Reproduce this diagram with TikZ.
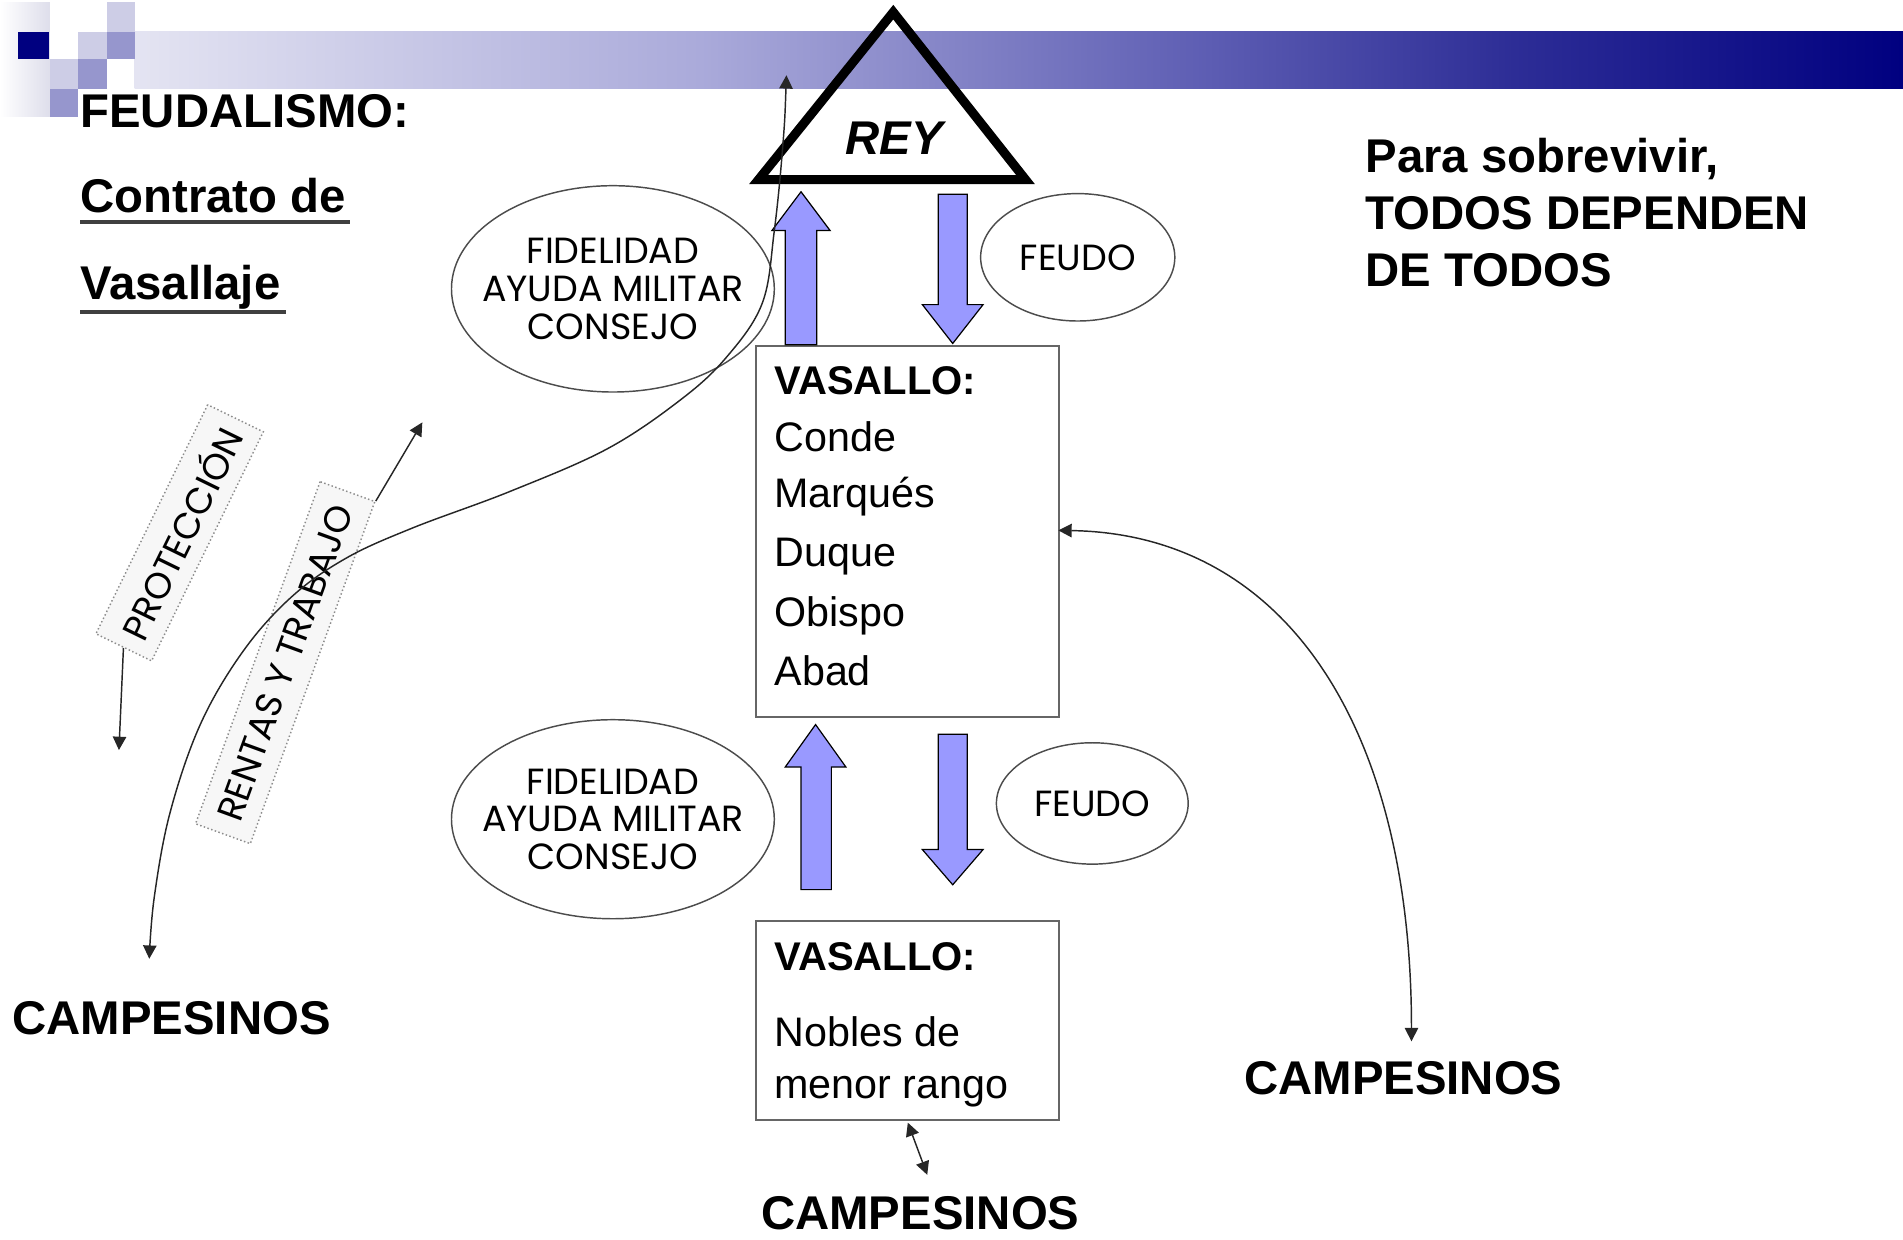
\documentclass[tikz,border=0pt]{standalone}
\usepackage{fontspec}
\setmainfont{Liberation Sans}
\newfontfamily\comic{Poppins}
\usetikzlibrary{arrows.meta,shapes.geometric}
\definecolor{navy}{RGB}{0,0,128}
\definecolor{bandA}{RGB}{228,228,242}
\definecolor{bandB}{RGB}{170,170,218}
\definecolor{bandC}{RGB}{95,95,180}
\definecolor{bandD}{RGB}{45,45,150}
\definecolor{sqlight}{RGB}{205,205,230}
\definecolor{sqmed}{RGB}{150,150,205}
\definecolor{stripe}{RGB}{222,222,235}
\definecolor{arrowblue}{RGB}{153,153,255}
\pgfdeclarehorizontalshading{bandsh}{100bp}{color(0bp)=(bandA); color(25bp)=(bandA); color(41bp)=(bandB); color(55bp)=(bandC); color(64bp)=(bandD); color(75bp)=(navy); color(100bp)=(navy)}
\tikzset{
  >={Triangle[length=11pt,width=11pt]},
  big/.style={font=\bfseries\fontsize{39}{47}\selectfont, inner sep=0, anchor=base west},
  boxhead/.style={font=\bfseries\fontsize{33}{40}\selectfont, inner sep=0, anchor=base west},
  boxtxt/.style={font=\fontsize{34}{40}\selectfont, inner sep=0, anchor=base west},
  ell/.style={ellipse, draw=black!70, line width=1.2pt, inner xsep=-20pt, inner ysep=0pt, align=center, font=\comic\fontsize{30}{31}\selectfont},
  vbox/.style={draw=black!60, line width=1.5pt, inner sep=0, anchor=north west},
  tag/.style={draw=black!45, dotted, line width=1.2pt, fill=black!3, inner sep=0, font=\comic\fontsize{30}{31}\selectfont},
  conn/.style={draw=black!85, line width=1.2pt},
  bluearr/.style={fill=arrowblue, draw=black, line width=1pt},
  uline/.style={draw=black!75, line width=3pt}
}
\begin{document}
\begin{tikzpicture}[x=1pt,y=-1pt]
\useasboundingbox (0,0) rectangle (1568,1021);
% header decoration
\shade[left color=white, right color=stripe] (0,2) rectangle (41,96);
\shade[shading=bandsh] (111,26) rectangle (1568,73);
\fill[navy] (15,26) rectangle (40,49);
\fill[sqlight] (64,26) rectangle (88,49);
\fill[sqmed] (88,26) rectangle (111,49);
\fill[sqlight] (88,2) rectangle (111,26);
\fill[sqlight] (41,49) rectangle (64,73);
\fill[sqmed] (64,49) rectangle (88,73);
\fill[sqmed] (41,73) rectangle (64,96);

% titles
\node[big] (feud) at (66,105) {FEUDALISMO:};
\node[big] (contr) at (66,175) {Contrato de};
\node[big] (vasal) at (66,247) {Vasallaje};
\draw[uline] (66,183) -- (288,183);
\draw[uline] (66,257) -- (236,257);

\node[big] (para1) at (1125,142) {Para sobrevivir,};
\node[big] (para2) at (1125,189) {TODOS DEPENDEN};
\node[big] (para3) at (1125,236) {DE TODOS};

% king
\coordinate (apex) at (736,10);
\coordinate (bl) at (625,148);
\coordinate (br) at (845,148);
\draw[line width=7.5pt, line join=miter] (apex) -- (bl) -- (br) -- cycle;
\node[font=\bfseries\itshape\fontsize{39}{47}\selectfont, inner sep=0, anchor=base] (rey) at (737,127) {REY};

% ellipses
\node[ell, minimum width=266, minimum height=170] (fid1) at (505,238) {FIDELIDAD\\AYUDA MILITAR\\CONSEJO};
\node[ell, minimum width=160, minimum height=105] (feudo1) at (888,212) {FEUDO};
\node[ell, minimum width=266, minimum height=164] (fid2) at (505,675) {FIDELIDAD\\AYUDA MILITAR\\CONSEJO};
\node[ell, minimum width=158, minimum height=100] (feudo2) at (900,662) {FEUDO};

% boxes
\node[vbox, minimum width=250, minimum height=306] (v1) at (622,284) {};
\node[boxhead] (v1a) at (638,325) {VASALLO:};
\node[boxtxt] (v1b) at (638,372) {Conde};
\node[boxtxt] (v1c) at (638,418) {Marqués};
\node[boxtxt] (v1d) at (638,467) {Duque};
\node[boxtxt] (v1e) at (638,516) {Obispo};
\node[boxtxt] (v1f) at (638,565) {Abad};

\node[vbox, minimum width=250, minimum height=164] (v2) at (622,758) {};
\node[boxhead] (v2a) at (638,800) {VASALLO:};
\node[boxtxt] (v2b) at (638,862) {Nobles de};
\node[boxtxt] (v2c) at (638,905) {menor rango};

% blue arrows
\draw[bluearr] (647,284) -- (647,190) -- (636,190) -- (660,158) -- (684,190) -- (673,190) -- (673,284) -- cycle;
\draw[bluearr] (773,160) -- (797,160) -- (797,251) -- (810,251) -- (785,283) -- (760,251) -- (773,251) -- cycle;
\draw[bluearr] (660,733) -- (660,632) -- (647,632) -- (672,597) -- (697,632) -- (685,632) -- (685,733) -- cycle;
\draw[bluearr] (773,605) -- (797,605) -- (797,700) -- (810,700) -- (785,729) -- (760,700) -- (773,700) -- cycle;

% campesinos
\node[big] (campL) at (10,852) {CAMPESINOS};
\node[big] (campR) at (1025,902) {CAMPESINOS};
\node[big] (campB) at (627,1013) {CAMPESINOS};

% tags
\node[tag, rotate=64, minimum width=210, minimum height=51] (prot) at (148,439) {PROTECCIÓN};
\node[tag, rotate=70, minimum width=300, minimum height=48] (rent) at (235,546) {RENTAS Y TRABAJO};

% connectors
\coordinate (kingtip) at (648,62);
\coordinate (campLtip) at (123,790);
\coordinate (protend) at (98,618);
\coordinate (rentend) at (348,348);
\coordinate (campRtip) at (1163,858);
\coordinate (campBtip) at (764,968);
\coordinate (v2low) at (748,925);
\coordinate (v1right) at (872,437);

\draw[conn, <->] plot[smooth, tension=0.6] coordinates {(kingtip) (645,120) (638,190) (628,250) (598,295) (560,330) (500,370) (420,405) (340,435) (285,460) (240,492) (200,537) (165,597) (140,670) (127,740) (campLtip)};
\draw[conn, ->] (prot.west) -- (protend);
\draw[conn, ->] (rent.south east) -- (rentend);
\draw[conn, <->] (v1right) .. controls (1060,440) and (1163,600) .. (campRtip);
\draw[conn, <->] (v2low) -- (campBtip);
\end{tikzpicture}
\end{document}
